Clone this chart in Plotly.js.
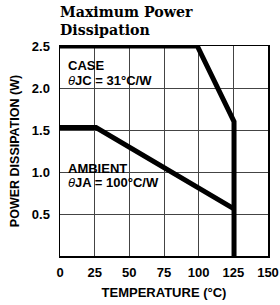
<!DOCTYPE html>
<html><head><meta charset="utf-8">
<script src="https://cdn.plot.ly/plotly-3.0.1.min.js"></script>
<style>html,body{margin:0;padding:0;background:#fff}#c{width:280px;height:305px}</style>
</head><body><div id="c"></div>
<script>
const caseTemp = [0, 99, 125.5, 125.5];
const casePower = [2.5, 2.5, 1.6, 0];
const ambTemp = [0, 26, 125.5];
const ambPower = [1.53, 1.53, 0.56];
const xTicks = [0, 25, 50, 75, 100, 125, 150];
const yTicks = [0.5, 1.0, 1.5, 2.0, 2.5];
const yTickText = ['0.5', '1.0', '1.5', '2.0', '2.5'];
const titleLines = ['Maximum Power', 'Dissipation'];

const lineStyle = {color: '#000', width: 5};
const traces = [
  {x: caseTemp, y: casePower, mode: 'lines', line: lineStyle, hoverinfo: 'skip'},
  {x: ambTemp, y: ambPower, mode: 'lines', line: lineStyle, hoverinfo: 'skip'}
];
const fam = 'Liberation Sans, Arial, sans-serif';
const tf = {family: fam, size: 13, color: '#000', weight: 'bold'};
const ann = {family: fam, size: 13, color: '#000'};
const titleFont = {family: 'DejaVu Serif, serif', size: 14.2, color: '#000'};
const layout = {
  width: 280, height: 305,
  margin: {l: 60, r: 12, t: 46, b: 49},
  showlegend: false,
  paper_bgcolor: '#fff', plot_bgcolor: '#fff',
  xaxis: {range: [0, 150], tickvals: xTicks, ticks: '', showgrid: true, gridcolor: '#444', gridwidth: 1,
    zeroline: false, showline: true, linecolor: '#000', linewidth: 1.5, mirror: true, tickfont: tf, ticklabelstandoff: 4,
    title: {text: 'TEMPERATURE (°C)', font: tf, standoff: 9}},
  yaxis: {range: [0, 2.5], tickvals: yTicks, ticktext: yTickText, ticks: '', showgrid: true, gridcolor: '#444', gridwidth: 1,
    zeroline: false, showline: true, linecolor: '#000', linewidth: 1.5, mirror: true, tickfont: tf, ticklabelstandoff: 6,
    title: {text: 'POWER DISSIPATION (W)', font: {family: fam, size: 12.5, color: '#000', weight: 'bold'}, standoff: 9}},
  annotations: [
    {text: '<b>' + titleLines[0] + '</b>', x: -0.008, y: 1.16, xref: 'paper', yref: 'paper', xanchor: 'left', yanchor: 'middle', showarrow: false, font: titleFont},
    {text: '<b>' + titleLines[1] + '</b>', x: -0.008, y: 1.075, xref: 'paper', yref: 'paper', xanchor: 'left', yanchor: 'middle', showarrow: false, font: titleFont},
    {text: '<b>CASE</b>', x: 4.5, y: 2.27, xref: 'x', yref: 'y', xanchor: 'left', yanchor: 'middle', showarrow: false, font: ann},
    {text: '<i>θ</i><b>JC = 31°C/W</b>', x: 4.5, y: 2.09, xref: 'x', yref: 'y', xanchor: 'left', yanchor: 'middle', showarrow: false, font: ann},
    {text: '<b>AMBIENT</b>', x: 4.5, y: 1.04, xref: 'x', yref: 'y', xanchor: 'left', yanchor: 'middle', showarrow: false, font: ann},
    {text: '<i>θ</i><b>JA = 100°C/W</b>', x: 4.5, y: 0.88, xref: 'x', yref: 'y', xanchor: 'left', yanchor: 'middle', showarrow: false, font: ann}
  ]
};
Plotly.newPlot('c', traces, layout, {staticPlot: true, displayModeBar: false});
</script></body></html>
